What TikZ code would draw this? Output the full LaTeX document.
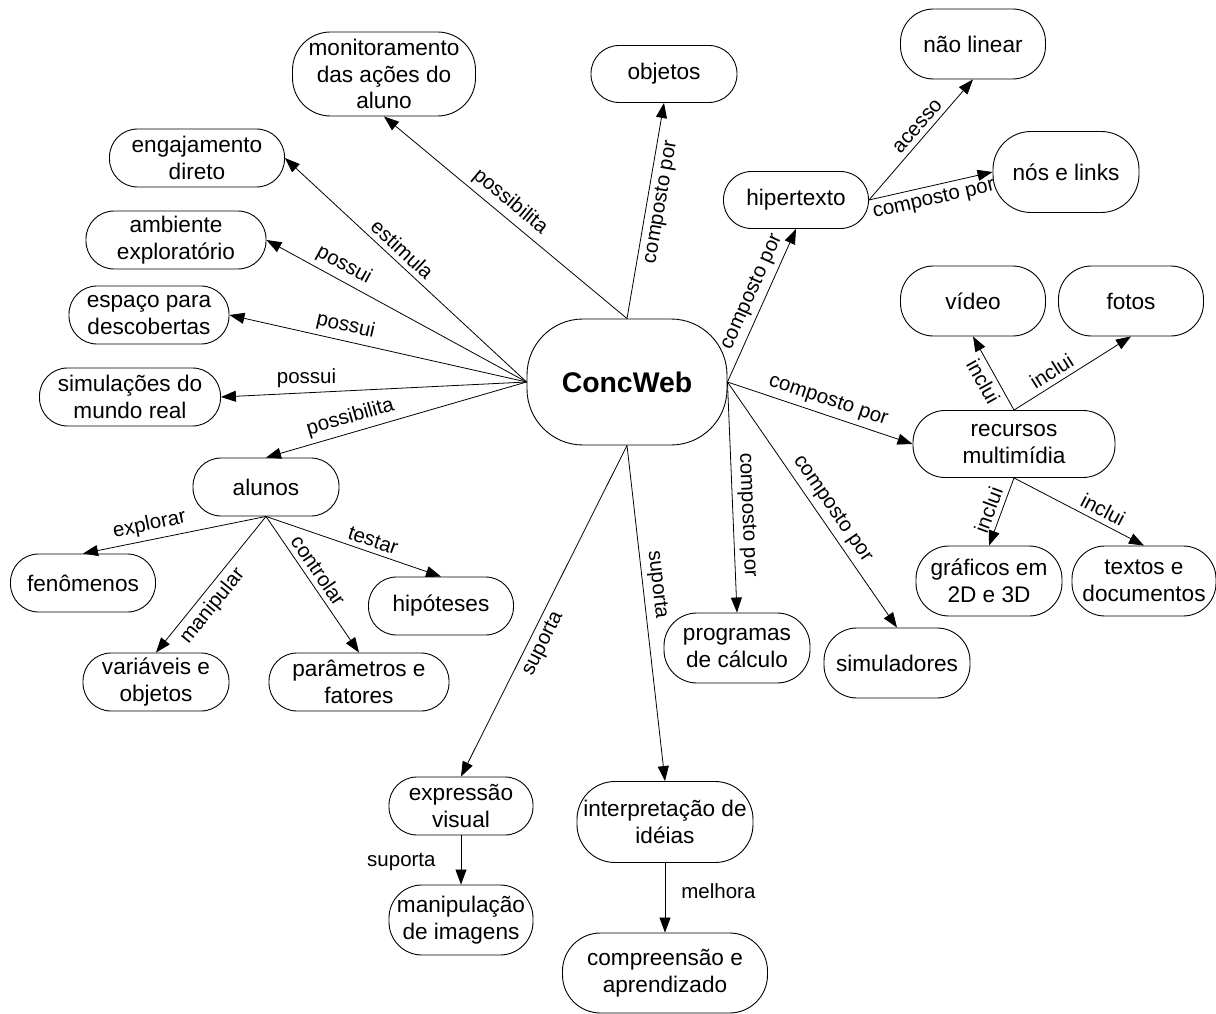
\documentclass[tikz,border=0pt]{standalone}
\usepackage{fontspec}
\setmainfont{Liberation Sans}
\usetikzlibrary{arrows.meta}

\begin{document}
\begin{tikzpicture}[x=1pt,y=-1pt,
    concept/.style={draw, line width=0.9pt, rounded corners=28pt, align=center,
      inner sep=0pt, minimum width=146pt, minimum height=58pt,
      font=\fontsize{22.6}{26.5}\selectfont},
    tall/.style={minimum height=70pt, rounded corners=33pt},
    link/.style={-{Triangle[length=15pt,width=11pt]}, line width=0.8pt},
    lbl/.style={font=\fontsize{20.5}{24}\selectfont, inner sep=5pt}]
  \useasboundingbox (0,0) rectangle (1216,1014);
  \draw
    (627,382) node[concept, minimum width=200pt, minimum height=126pt, rounded corners=56pt,
      font=\fontsize{28.4}{34}\selectfont\bfseries] (concweb) {ConcWeb}
    (384,74) node[concept, minimum width=183pt, minimum height=84pt, rounded corners=38pt] (monit) {monitoramento\\das ações do\\aluno}
    (664,74) node[concept, minimum height=57pt] (objetos) {objetos}
    (973,44) node[concept, tall, minimum width=145pt] (naolinear) {não linear}
    (1066,172) node[concept, minimum height=81pt, rounded corners=38pt] (nos) {nós e links}
    (796,200) node[concept, minimum width=145pt, minimum height=57pt] (hipertexto) {hipertexto}
    (197,158) node[concept, minimum width=175pt] (engaj) {engajamento\\direto}
    (176,240) node[concept, minimum width=180pt] (ambiente) {ambiente\\exploratório}
    (149,315) node[concept, minimum width=160pt] (espaco) {espaço para\\descobertas}
    (130,397) node[concept, minimum width=181pt] (simul) {simulações do\\mundo real}
    (266,487) node[concept] (alunos) {alunos}
    (973,301) node[concept, tall, minimum width=145pt] (video) {vídeo}
    (1131,301) node[concept, tall, minimum width=145pt] (fotos) {fotos}
    (1014,444) node[concept, minimum width=202pt, minimum height=67pt, rounded corners=32pt] (recursos) {recursos\\multimídia}
    (989,581) node[concept, tall] (graficos) {gráficos em\\2D e 3D}
    (1144,581) node[concept, tall, minimum width=144pt] (textos) {textos e\\documentos}
    (737,648) node[concept, tall] (programas) {programas\\de cálculo}
    (897,663) node[concept, tall] (simuladores) {simuladores}
    (83,583) node[concept, minimum width=145pt] (fenomenos) {fenômenos}
    (441,606) node[concept, minimum width=145pt] (hipoteses) {hipóteses}
    (156,682) node[concept] (variaveis) {variáveis e\\objetos}
    (359,682) node[concept, minimum width=180pt] (parametros) {parâmetros e\\fatores}
    (461,806) node[concept, minimum width=144pt] (expressao) {expressão\\visual}
    (461,920) node[concept, tall, minimum width=144pt] (manipulacao) {manipulação\\de imagens}
    (665,822) node[concept, minimum width=176pt, minimum height=81pt, rounded corners=38pt] (interpretacao) {interpretação de\\idéias}
    (665,973) node[concept, minimum width=205pt, minimum height=80pt, rounded corners=38pt] (compreensao) {compreensão e\\aprendizado};
  \begin{scope}[link]
    \draw (concweb.north) -- node[lbl, pos=0.52, sloped, above] {possibilita} (monit.south);
    \draw (concweb.west) -- node[lbl, pos=0.55, sloped, above] {estimula} (engaj.east);
    \draw (concweb.west) -- node[lbl, pos=0.73, sloped, above] {possui} (ambiente.east);
    \draw (concweb.west) -- node[lbl, pos=0.62, sloped, above] {possui} (espaco.east);
    \draw (concweb.west) -- node[lbl, pos=0.72, above] {possui} (simul.east);
    \draw (concweb.west) -- node[lbl, pos=0.66, sloped, above] {possibilita} (alunos.north);
    \draw (concweb.north) -- node[lbl, pos=0.55, sloped, below] {composto por} (objetos.south);
    \draw (concweb.east) -- node[lbl, pos=0.55, sloped, above] {composto por} (hipertexto.south);
    \draw (hipertexto.east) -- node[lbl, pos=0.55, sloped, above] {acesso} (naolinear.south);
    \draw (hipertexto.east) -- node[lbl, pos=0.5, sloped, below] {composto por} (nos.west);
    \draw (concweb.east) -- node[lbl, pos=0.52, sloped, above] {composto por} (recursos.west);
    \draw (recursos.north) -- node[lbl, pos=0.47, sloped, below] {inclui} (video.south);
    \draw (recursos.north) -- node[lbl, pos=0.38, sloped, above] {inclui} (fotos.south);
    \draw (recursos.south) -- node[lbl, pos=0.54, sloped, above] {inclui} (graficos.north);
    \draw (recursos.south) -- node[lbl, pos=0.64, sloped, above] {inclui} (textos.north);
    \draw (concweb.east) -- node[lbl, pos=0.58, sloped, above] {composto por} (programas.north);
    \draw (concweb.east) -- node[lbl, pos=0.55, sloped, above] {composto por} (simuladores.north);
    \draw (concweb.south) -- node[lbl, pos=0.58, sloped, below] {suporta} (expressao.north);
    \draw (concweb.south) -- node[lbl, pos=0.42, sloped, above] {suporta} (interpretacao.north);
    \draw (expressao.south) -- node[lbl, pos=0.55, left=20pt] {suporta} (manipulacao.north);
    \draw (interpretacao.south) -- node[lbl, pos=0.4, right=11pt] {melhora} (compreensao.north);
    \draw (alunos.south) -- node[lbl, pos=0.62, sloped, above] {explorar} (fenomenos.north);
    \draw (alunos.south) -- node[lbl, pos=0.59, sloped, above] {testar} (hipoteses.north);
    \draw (alunos.south) -- node[lbl, pos=0.59, sloped, below] {manipular} (variaveis.north);
    \draw (alunos.south) -- node[lbl, pos=0.45, sloped, above] {controlar} (parametros.north);
  \end{scope}
\end{tikzpicture}
\end{document}
